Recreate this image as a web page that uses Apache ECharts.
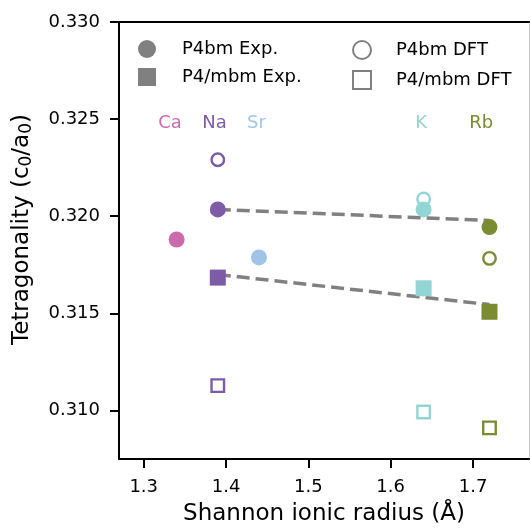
<!DOCTYPE html>
<html>
<head>
<meta charset="utf-8">
<script src="https://cdn.jsdelivr.net/npm/echarts@6/dist/echarts.min.js"></script>
<style>html,body{margin:0;padding:0;background:#fff}#c{width:530px;height:531px}</style>
</head>
<body>
<div id="c"></div>
<script>
// Data
const elements = ['Ca', 'Na', 'Sr', 'K', 'Rb'];
const elementColors = ['#cc6aaf', '#7d5ba6', '#a1c3e8', '#93d4d4', '#7a8b31'];
const radius = [1.34, 1.39, 1.44, 1.64, 1.72];
const labelRadius = [1.332, 1.386, 1.437, 1.637, 1.710];
const labelLevel = 0.3248;
// null = not present
const p4bmExp = [0.3188, 0.32035, 0.31788, 0.32035, 0.31944];
const p4bmDFT = [null, 0.32291, null, 0.32089, 0.31783];
const p4mbmExp = [null, 0.31684, null, 0.31629, 0.31508];
const p4mbmDFT = [null, 0.31128, null, 0.30992, 0.30910];
const fitExpCircleX = [1.39, 1.72];
const fitExpCircleY = [0.32035, 0.31978];
const fitExpSquareX = [1.39, 1.72];
const fitExpSquareY = [0.3170, 0.31545];
const yTicks = [0.310, 0.315, 0.320, 0.325, 0.330];
const xTicks = [1.3, 1.4, 1.5, 1.6, 1.7];

const FONT = 'DejaVu Sans';
const GRAY = '#808080';

function pts(vals, open) {
  const out = [];
  vals.forEach((v, i) => {
    if (v == null) return;
    out.push({
      value: [radius[i], v],
      itemStyle: open
        ? { color: 'rgba(255,255,255,0)', borderColor: elementColors[i], borderWidth: 2.4, opacity: 1 }
        : { color: elementColors[i], borderWidth: 0, opacity: 1 }
    });
  });
  return out;
}

const chart = echarts.init(document.getElementById('c'), null, { renderer: 'canvas' });
const option = {
  animation: false,
  backgroundColor: '#fff',
  textStyle: { fontFamily: FONT },
  grid: { left: 119, top: 22, right: 1, bottom: 71, containLabel: false },
  legend: [
    {
      data: ['P4bm Exp.', 'P4/mbm Exp.'],
      orient: 'vertical', left: 133, top: 35,
      itemWidth: 18, itemHeight: 18, itemGap: 10,
      textStyle: { fontFamily: FONT, fontSize: 18, color: '#000', padding: [0, 0, 0, 21] }
    },
    {
      data: ['P4bm DFT', 'P4/mbm DFT'],
      orient: 'vertical', left: 347, top: 35,
      itemWidth: 18, itemHeight: 18, itemGap: 10,
      textStyle: { fontFamily: FONT, fontSize: 18, color: '#000', padding: [0, 0, 0, 20] }
    }
  ],
  xAxis: [
    {
      type: 'value', min: 1.27, max: 1.768, position: 'bottom',
      name: 'Shannon ionic radius (Å)', nameLocation: 'middle', nameGap: 44,
      nameTextStyle: { fontFamily: FONT, fontSize: 23, color: '#000' },
      axisLine: { show: true, onZero: false, lineStyle: { color: '#000', width: 2 } },
      axisTick: { show: true, length: 9, inside: false, customValues: xTicks, lineStyle: { color: '#000', width: 2 } },
      axisLabel: { customValues: xTicks, margin: 19, fontFamily: FONT, fontSize: 18, color: '#000',
        formatter: v => v.toFixed(1) },
      splitLine: { show: false }
    },
    {
      type: 'value', min: 1.27, max: 1.768, position: 'top',
      axisLine: { show: true, onZero: false, lineStyle: { color: '#000', width: 2 } },
      axisTick: { show: false }, axisLabel: { show: false }, splitLine: { show: false }
    }
  ],
  yAxis: [
    {
      type: 'value', min: 0.3075, max: 0.330, position: 'left',
      name: 'Tetragonality (c{sub|0}/a{sub|0})', nameLocation: 'middle', nameGap: 84, nameRotate: 90,
      nameTextStyle: { fontFamily: FONT, fontSize: 23, color: '#000', padding: [0, 0, 0, 22],
        rich: { sub: { fontFamily: FONT, fontSize: 17, color: '#000', verticalAlign: 'bottom', padding: [8, 0, 0, 0] } } },
      axisLine: { show: true, onZero: false, lineStyle: { color: '#000', width: 2 } },
      axisTick: { show: true, length: 9, customValues: yTicks, lineStyle: { color: '#000', width: 2 } },
      axisLabel: { customValues: yTicks, margin: 19, fontFamily: FONT, fontSize: 18, color: '#000',
        formatter: v => v.toFixed(3) },
      splitLine: { show: false }
    },
    {
      type: 'value', min: 0.3075, max: 0.330, position: 'right',
      axisLine: { show: true, onZero: false, lineStyle: { color: '#c8c8c8', width: 1 } },
      axisTick: { show: false }, axisLabel: { show: false }, splitLine: { show: false }
    }
  ],
  series: [
    {
      type: 'line', name: 'fitCircle', z: 1, symbol: 'none', silent: true,
      data: fitExpCircleX.map((x, i) => [x, fitExpCircleY[i]]),
      lineStyle: { color: GRAY, width: 3.5, type: [13, 6], opacity: 1 }
    },
    {
      type: 'line', name: 'fitSquare', z: 1, symbol: 'none', silent: true,
      data: fitExpSquareX.map((x, i) => [x, fitExpSquareY[i]]),
      lineStyle: { color: GRAY, width: 3.5, type: [13, 6], opacity: 1 }
    },
    {
      type: 'scatter', name: 'P4bm DFT', z: 2, symbol: 'circle', symbolSize: 12.5,
      itemStyle: { color: 'rgba(255,255,255,0)', borderColor: GRAY, borderWidth: 2.4, opacity: 1 },
      data: pts(p4bmDFT, true)
    },
    {
      type: 'scatter', name: 'P4/mbm DFT', z: 2, symbol: 'rect', symbolSize: 12.5,
      itemStyle: { color: 'rgba(255,255,255,0)', borderColor: GRAY, borderWidth: 2.4, opacity: 1 },
      data: pts(p4mbmDFT, true)
    },
    {
      type: 'scatter', name: 'P4bm Exp.', z: 3, symbol: 'circle', symbolSize: 16,
      itemStyle: { color: GRAY, opacity: 1 },
      data: pts(p4bmExp, false)
    },
    {
      type: 'scatter', name: 'P4/mbm Exp.', z: 3, symbol: 'rect', symbolSize: 16,
      itemStyle: { color: GRAY, opacity: 1 },
      data: pts(p4mbmExp, false)
    },
    {
      type: 'scatter', name: 'labels', symbolSize: 0, silent: true,
      itemStyle: { opacity: 1 },
      data: elements.map((e, i) => ({
        value: [labelRadius[i], labelLevel], name: e,
        label: { show: true, position: 'inside', formatter: e, color: elementColors[i],
          fontFamily: FONT, fontSize: 18 }
      }))
    }
  ]
};
chart.setOption(option);
</script>
</body>
</html>
